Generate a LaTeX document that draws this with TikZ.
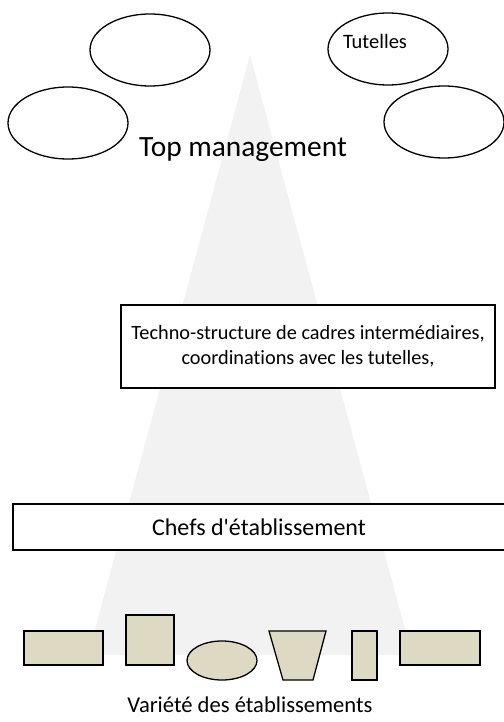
\documentclass[tikz,border=0pt]{standalone}
\usepackage{fontspec}
\setmainfont{Carlito}[Ligatures=NoCommon]
\usetikzlibrary{shapes.geometric,positioning}

\definecolor{pyramid}{HTML}{F2F2F2}
\definecolor{etab}{HTML}{DDD9C3}

\tikzset{
  oval/.style={ellipse, draw, line width=1.3pt, minimum width=120, minimum height=72},
  box/.style={rectangle, draw, line width=1.3pt, fill=white, align=center},
  etabbox/.style={rectangle, draw, line width=1.3pt, fill=etab, inner sep=0pt},
}

\begin{document}
\begin{tikzpicture}[x=1pt, y=-1pt, font=\fontsize{22.6}{25}\selectfont]
  \useasboundingbox (0,0) rectangle (503,722);
  \fill[pyramid] (250,55) -- (412,655) -- (88,655) -- cycle;

  \node[oval] (o1)   at (150,50)  {};
  \node[oval] (o2)   at (68,123)  {};
  \node[oval] (tut)  at (388,49)  {};
  \node[oval] (o4)   at (444,122) {};
  \node[font=\fontsize{20.5}{22}\selectfont] (tuttxt) at (375,41) {Tutelles};
  \node[anchor=base, font=\fontsize{29.4}{32}\selectfont] (top) at (243,157) {Top management};

  \node[box, minimum width=374, minimum height=83, inner xsep=2pt,
        font=\fontsize{20.3}{25}\selectfont] (techno) at (308,346.5)
    {Techno-structure de cadres intermédiaires,\\coordinations avec les tutelles,};
  \node[box, minimum width=492, minimum height=46, font=\fontsize{24}{26}\selectfont]
    (chefs) at (259,527) {Chefs d\textquotesingle établissement};

  \node[etabbox, minimum width=79, minimum height=34] (e1) at (63.5,648) {};
  \node[etabbox, minimum width=48, minimum height=50] (e2) at (150,640) {};
  \node[ellipse, draw, line width=1.3pt, fill=etab, minimum width=70, minimum height=39, inner sep=0pt] (e3) at (222,660.5) {};
  \draw[line width=1.3pt, fill=etab] (269,631) -- (326,631) -- (313,680) -- (283,680) -- cycle;
  \node[etabbox, minimum width=25, minimum height=49] (e5) at (364.5,655.5) {};
  \node[etabbox, minimum width=80, minimum height=34] (e6) at (440,648) {};

  \node (var) at (250,705) {Variété des établissements};
\end{tikzpicture}
\end{document}
